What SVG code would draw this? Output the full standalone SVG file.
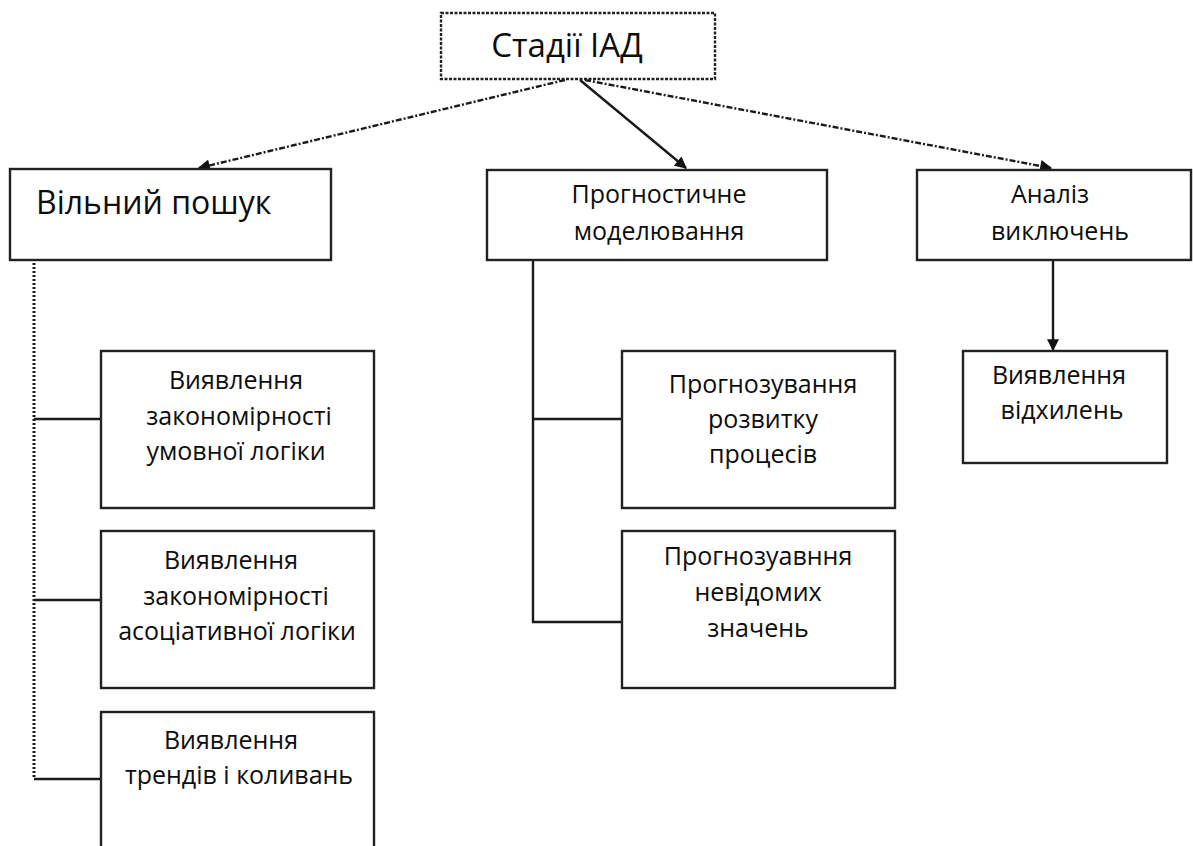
<svg xmlns="http://www.w3.org/2000/svg" width="1193" height="846" viewBox="0 0 1193 846">
  <defs>
    <style>
      .box { fill: #ffffff; stroke: #222222; stroke-width: 2.4; }
      .dotted { stroke-dasharray: 3 1.5; }
      .t { font-family: "Open Sans", "Liberation Sans", sans-serif; font-size: 25px; fill: #0d0d0d; text-anchor: middle; }
      .link { fill: none; stroke: #1a1a1a; stroke-width: 2.4; }
      .dash { stroke-dasharray: 6 2 2 2; }
    </style>
    <marker id="arrowBig" viewBox="0 0 10 10" refX="9" refY="5" markerWidth="14" markerHeight="12" orient="auto" markerUnits="userSpaceOnUse">
      <path d="M0,0 L10,5 L0,10 z" fill="#111111"/>
    </marker>
  </defs>
  <rect width="1193" height="846" fill="#ffffff"/>

  <!-- connectors -->
  <g id="connectors">
    <line class="link dash" x1="565" y1="80" x2="199" y2="168" marker-end="url(#arrowBig)"/>
    <line class="link" x1="580" y1="80" x2="686" y2="168" marker-end="url(#arrowBig)"/>
    <line class="link dash" x1="585" y1="80" x2="1051" y2="168" marker-end="url(#arrowBig)"/>
    <line class="link" x1="1053" y1="260" x2="1053" y2="350" marker-end="url(#arrowBig)"/>
    <!-- free search branch -->
    <path class="link" d="M34,263 V779" style="stroke-width: 3; stroke-dasharray: 2 2"/>
    <path class="link" d="M34,419 H101 M34,600 H101 M34,779 H101"/>
    <!-- predictive modelling branch -->
    <path class="link" d="M533,260 V622 H622 M533,419 H622"/>
  </g>

  <g id="stages">
    <rect class="box dotted" x="441" y="13" width="274" height="66"/>
    <text class="t" x="567" y="57" style="font-size: 33px">Стадії ІАД</text>
  </g>

  <g id="free-search">
    <rect class="box" x="10" y="169" width="321" height="91"/>
    <text class="t" x="36" y="214" style="font-size: 32px; text-anchor: start">Вільний пошук</text>
  </g>

  <g id="predictive-modelling">
    <rect class="box" x="487" y="170" width="340" height="90"/>
    <text class="t" x="659" y="203">Прогностичне</text>
    <text class="t" x="659" y="240">моделювання</text>
  </g>

  <g id="exception-analysis">
    <rect class="box" x="917" y="170" width="274" height="90"/>
    <text class="t" x="1050" y="203">Аналіз</text>
    <text class="t" x="1060" y="240">виключень</text>
  </g>

  <g id="conditional-logic">
    <rect class="box" x="101" y="351" width="273" height="157"/>
    <text class="t" x="236" y="389">Виявлення</text>
    <text class="t" x="239" y="425">закономірності</text>
    <text class="t" x="236" y="460">умовної логіки</text>
  </g>

  <g id="associative-logic">
    <rect class="box" x="101" y="531" width="273" height="157"/>
    <text class="t" x="231" y="569">Виявлення</text>
    <text class="t" x="236" y="605">закономірності</text>
    <text class="t" x="237" y="640">асоціативної логіки</text>
  </g>

  <g id="trends">
    <rect class="box" x="101" y="712" width="273" height="150"/>
    <text class="t" x="231" y="749">Виявлення</text>
    <text class="t" x="239" y="784">трендів і коливань</text>
  </g>

  <g id="process-forecast">
    <rect class="box" x="622" y="351" width="273" height="157"/>
    <text class="t" x="763" y="393">Прогнозування</text>
    <text class="t" x="763" y="428">розвитку</text>
    <text class="t" x="763" y="463">процесів</text>
  </g>

  <g id="unknown-values">
    <rect class="box" x="622" y="531" width="273" height="157"/>
    <text class="t" x="758" y="565">Прогнозуавння</text>
    <text class="t" x="758" y="601">невідомих</text>
    <text class="t" x="758" y="637">значень</text>
  </g>

  <g id="deviations">
    <rect class="box" x="963" y="351" width="204" height="112"/>
    <text class="t" x="1059" y="384">Виявлення</text>
    <text class="t" x="1062" y="419">відхилень</text>
  </g>
</svg>
